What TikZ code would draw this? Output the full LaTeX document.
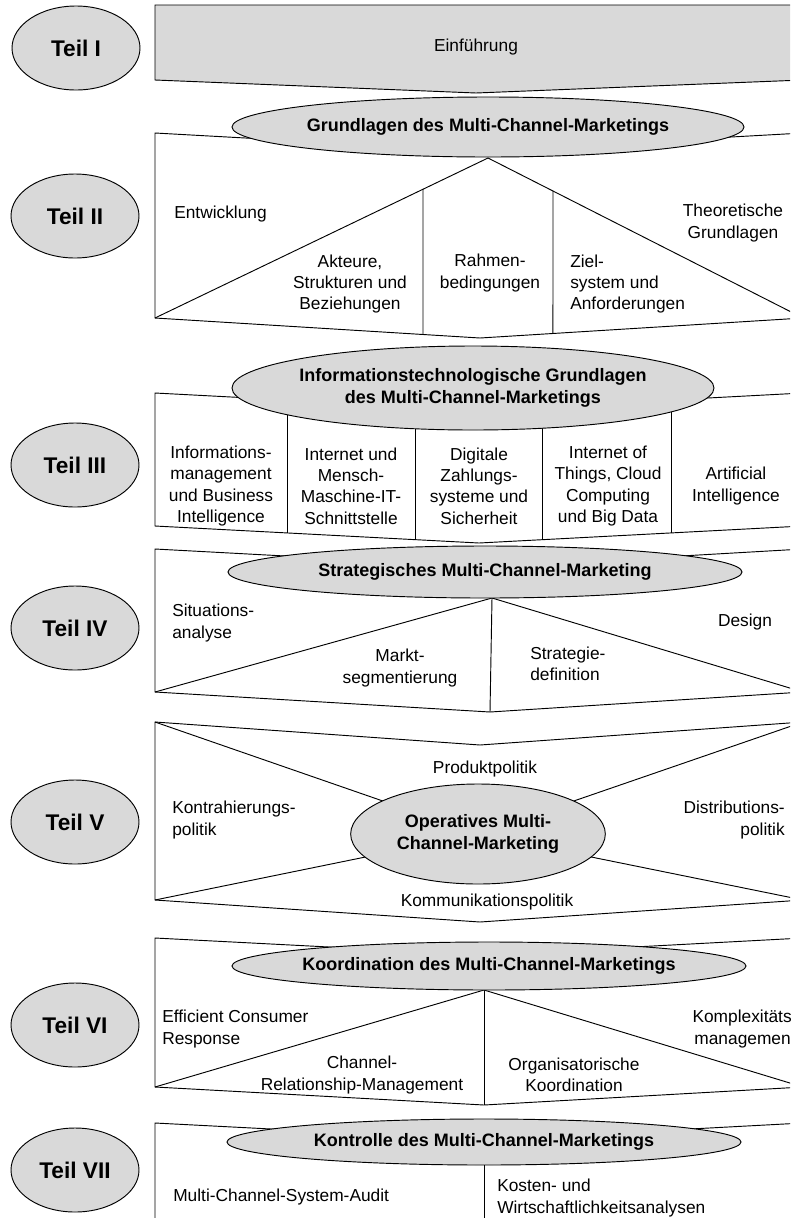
\documentclass[tikz,border=0pt]{standalone}
\usepackage{fontspec}
\setmainfont{Liberation Sans}
\usetikzlibrary{shapes.geometric}
\definecolor{panel}{HTML}{D9D9D9}
\begin{document}
\begin{tikzpicture}[x=0.75pt,y=-0.75pt,
  edge/.style={draw=black,line width=0.7pt,line join=miter},
  oval/.style={ellipse,draw=black,line width=0.7pt,fill=panel,inner sep=0pt},
  partlabel/.style={oval,minimum width=96pt,minimum height=63pt},
  parttext/.style={inner sep=0pt,font=\fontsize{17}{20}\selectfont\bfseries},
  headtext/.style={inner sep=0pt,align=center,font=\fontsize{13.5}{16.5}\selectfont\bfseries},
  txt/.style={inner sep=0pt,align=center,font=\fontsize{13}{16.1}\selectfont},
  txtl/.style={txt,align=left,anchor=west},
  txtr/.style={txt,align=right,anchor=east},
]
\useasboundingbox (0,0) rectangle (790,1218);
\clip (0,0) rectangle (790,1218);

% ---------- Teil I: Einfuehrung ----------
\coordinate (a1) at (155,5);
\coordinate (a2) at (803,5);
\coordinate (a3) at (803,80);
\coordinate (a4) at (476,93);
\coordinate (a5) at (155,80);
\draw[edge,fill=panel] (a1) -- (a2) -- (a3) -- (a4) -- (a5) -- cycle;
\node[txt] (intro) at (476,47) {Einführung};
\node[partlabel] (p1) at (76,48) {};
\node[parttext] (p1t) at (p1) {Teil I};

% ---------- Teil II: Grundlagen ----------
\coordinate (b1) at (155,133);
\coordinate (bn) at (480,151);
\coordinate (b2) at (803,133);
\coordinate (b3) at (803,318);
\coordinate (bp) at (480,338);
\coordinate (b4) at (155,318);
\coordinate (bk) at (488,158);
\coordinate (bv1a) at (423,0);
\coordinate (bv1b) at (423,400);
\coordinate (bv2a) at (553,0);
\coordinate (bv2b) at (553,400);
\draw[edge] (b1) -- (bn) -- (b2) -- (b3) -- (bp) -- (b4) -- cycle;
\draw[edge] (b4) -- (bk) -- (b3);
\draw[edge] (intersection of b4--bk and bv1a--bv1b) -- (intersection of b4--bp and bv1a--bv1b);
\draw[edge] (intersection of bk--b3 and bv2a--bv2b) -- (intersection of bp--b3 and bv2a--bv2b);
\node[oval,minimum width=384pt,minimum height=45pt] (g2) at (488,127) {};
\node[headtext] (g2t) at (g2) {Grundlagen des Multi-Channel-Marketings};
\node[txtl] (e1) at (174,214) {Entwicklung};
\node[txt] (e2) at (350,284) {Akteure,\\Strukturen und\\Beziehungen};
\node[txt] (e3) at (490,273) {Rahmen-\\bedingungen};
\node[txtl] (e4) at (570,284) {Ziel-\\system und\\Anforderungen};
\node[txt] (e5) at (733,223) {Theoretische\\Grundlagen};
\node[partlabel] (p2) at (75,216) {};
\node[parttext] (p2t) at (p2) {Teil II};

% ---------- Teil III: IT-Grundlagen ----------
\coordinate (c1) at (155,393);
\coordinate (cn) at (479,410);
\coordinate (c2) at (803,393);
\coordinate (c3) at (803,526);
\coordinate (cp) at (479,543);
\coordinate (c4) at (155,526);
\draw[edge] (c1) -- (cn) -- (c2) -- (c3) -- (cp) -- (c4) -- cycle;
\foreach \xx/\nm in {287/ca,416/cb}{
  \coordinate (\nm u) at (\xx,0);
  \coordinate (\nm d) at (\xx,600);
  \draw[edge] (intersection of c1--cn and \nm u--\nm d) -- (intersection of c4--cp and \nm u--\nm d);
}
\foreach \xx/\nm in {543/cc,672/cd}{
  \coordinate (\nm u) at (\xx,0);
  \coordinate (\nm d) at (\xx,600);
  \draw[edge] (intersection of cn--c2 and \nm u--\nm d) -- (intersection of cp--c3 and \nm u--\nm d);
}
\node[oval,minimum width=361.5pt,minimum height=63pt] (g3) at (473,388) {};
\node[headtext] (g3t) at (g3) {Informationstechnologische Grundlagen\\des Multi-Channel-Marketings};
\node[txt] (f1) at (221,486) {Informations-\\management\\und Business\\Intelligence};
\node[txt] (f2) at (351,486) {Internet und\\Mensch-\\Maschine-IT-\\Schnittstelle};
\node[txt] (f3) at (479,486) {Digitale\\Zahlungs-\\systeme und\\Sicherheit};
\node[txt] (f4) at (608,486) {Internet of\\Things, Cloud\\Computing\\und Big Data};
\node[txt] (f5) at (736,486) {Artificial\\Intelligence};
\node[partlabel] (p3) at (75,465) {};
\node[parttext] (p3t) at (p3) {Teil III};

% ---------- Teil IV: Strategie ----------
\coordinate (d1) at (155,549);
\coordinate (dn) at (490,567);
\coordinate (d2) at (803,549);
\coordinate (d3) at (803,692);
\coordinate (dp) at (490,712);
\coordinate (d4) at (155,692);
\coordinate (dk) at (492,598);
\draw[edge] (d1) -- (dn) -- (d2) -- (d3) -- (dp) -- (d4) -- cycle;
\draw[edge] (d4) -- (dk) -- (d3);
\draw[edge] (dk) -- (dp);
\node[oval,minimum width=385.5pt,minimum height=39pt] (g4) at (485,572) {};
\node[headtext] (g4t) at (g4) {Strategisches Multi-Channel-Marketing};
\node[txtl] (h1) at (172,623) {Situations-\\analyse};
\node[txt] (h2) at (400,668) {Markt-\\segmentierung};
\node[txtl] (h3) at (530,664) {Strategie-\\definition};
\node[txt] (h4) at (745,622) {Design};
\node[partlabel] (p4) at (75,628) {};
\node[parttext] (p4t) at (p4) {Teil IV};

% ---------- Teil V: Operatives Marketing ----------
\coordinate (k1) at (155,722);
\coordinate (kn) at (480,745);
\coordinate (k2) at (803,722);
\coordinate (k3) at (803,900);
\coordinate (kp) at (480,922);
\coordinate (k4) at (155,900);
\draw[edge] (k1) -- (kn) -- (k2) -- (k3) -- (kp) -- (k4) -- cycle;
\coordinate (kc) at (478,834);
\draw[edge] (k1) -- (kc) (k2) -- (kc) (k3) -- (kc) (k4) -- (kc);
\node[oval,minimum width=191pt,minimum height=75pt] (g5) at (kc) {};
\node[headtext] (g5t) at (g5) {Operatives Multi-\\Channel-Marketing};
\node[txt] (m1) at (485,769) {Produktpolitik};
\node[txtl] (m2) at (172,820) {Kontrahierungs-\\politik};
\node[txtr] (m3) at (785,820) {Distributions-\\politik};
\node[txt] (m4) at (487,902) {Kommunikationspolitik};
\node[partlabel] (p5) at (75,822) {};
\node[parttext] (p5t) at (p5) {Teil V};

% ---------- Teil VI: Koordination ----------
\coordinate (q1) at (155,938);
\coordinate (qn) at (484,955);
\coordinate (q2) at (803,938);
\coordinate (q3) at (803,1087);
\coordinate (qp) at (484,1105);
\coordinate (q4) at (155,1087);
\coordinate (qk) at (484,990);
\draw[edge] (q1) -- (qn) -- (q2) -- (q3) -- (qp) -- (q4) -- cycle;
\draw[edge] (q4) -- (qk) -- (q3);
\draw[edge] (qk) -- (qp);
\node[oval,minimum width=385.5pt,minimum height=36pt] (g6) at (489,966) {};
\node[headtext] (g6t) at (g6) {Koordination des Multi-Channel-Marketings};
\node[txtl] (r1) at (162,1029) {Efficient Consumer\\Response};
\node[txt] (r2) at (362,1075) {Channel-\\Relationship-Management};
\node[txt] (r3) at (574,1075) {Organisatorische\\Koordination};
\node[txt] (r4) at (745,1029) {Komplexitäts-\\management};
\node[partlabel] (p6) at (75,1025) {};
\node[parttext] (p6t) at (p6) {Teil VI};

% ---------- Teil VII: Kontrolle ----------
\coordinate (w1) at (155,1123);
\coordinate (wn) at (484,1140);
\coordinate (w2) at (803,1123);
\coordinate (w3) at (803,1240);
\coordinate (w4) at (155,1240);
\coordinate (wv) at (484,1240);
\draw[edge] (w4) -- (w1) -- (wn) -- (w2) -- (w3);
\node[oval,minimum width=385.5pt,minimum height=34.5pt] (g7) at (484,1142) {};
\draw[edge] (g7.south) -- (wv);
\node[headtext] (g7t) at (g7) {Kontrolle des Multi-Channel-Marketings};
\node[txtl] (s1) at (173,1197) {Multi-Channel-System-Audit};
\node[txtl] (s2) at (497,1198) {Kosten- und\\Wirtschaftlichkeitsanalysen};
\node[partlabel] (p7) at (75,1170) {};
\node[parttext] (p7t) at (p7) {Teil VII};
\end{tikzpicture}
\end{document}
